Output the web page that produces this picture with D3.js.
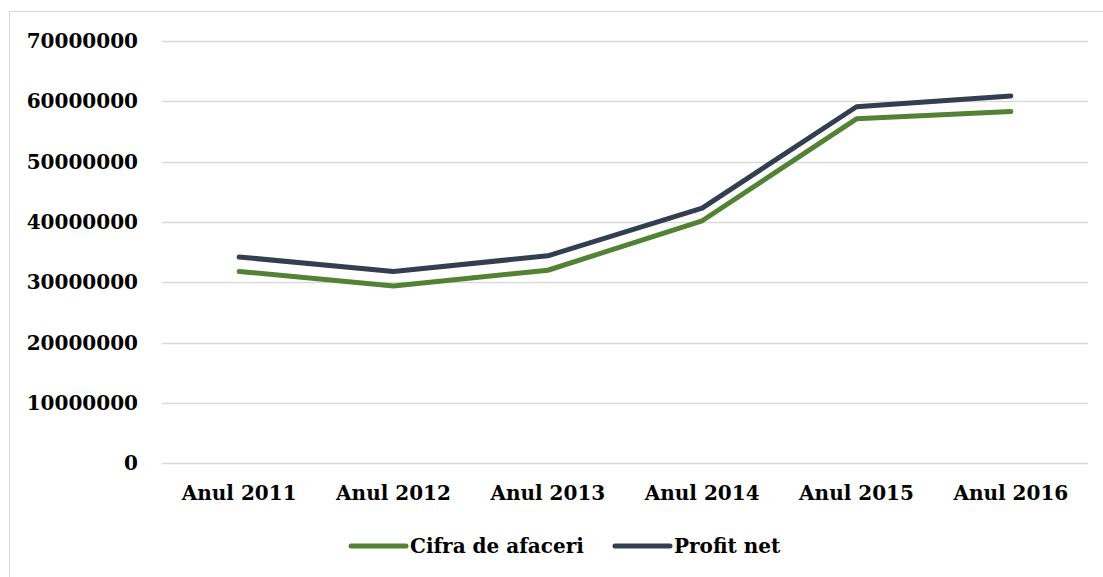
<!DOCTYPE html>
<html lang="ro">
<head>
    <meta charset="UTF-8">
    <title>Cifra de afaceri si profit net</title>
    <script src="https://d3js.org/d3.v7.min.js"></script>
    <style>
        body { margin: 0; background: #fff; }
        text { font-family: "DejaVu Serif", serif; font-weight: bold; fill: #000; }
    </style>
</head>
<body>
    <div id="chart"></div>

    <script>
        // Data
        const years = ["Anul 2011", "Anul 2012", "Anul 2013", "Anul 2014", "Anul 2015", "Anul 2016"];
        const cifraAfaceri = [31800000, 29400000, 32000000, 40200000, 57100000, 58300000];
        const profitNet = [34200000, 31800000, 34400000, 42300000, 59100000, 60900000];
        const yTicks = [0, 10000000, 20000000, 30000000, 40000000, 50000000, 60000000, 70000000];
        const seriesNames = ["Cifra de afaceri", "Profit net"];
        const seriesColors = ["#548235", "#333f50"];

        const width = 1103;
        const height = 577;

        const svg = d3.select("#chart")
            .append("svg")
            .attr("width", width)
            .attr("height", height);

        // outer chart border (only top/left visible in the crop)
        svg.append("rect")
            .attr("x", 9.5).attr("y", 11.5)
            .attr("width", 1100).attr("height", 580)
            .attr("fill", "none")
            .attr("stroke", "#d9d9d9")
            .attr("stroke-width", 1);

        const x = d3.scaleBand()
            .domain(years)
            .range([162, 1088]);

        const y = d3.scaleLinear()
            .domain([0, 70000000])
            .range([463.3, 41]);

        // gridlines
        svg.append("g")
            .selectAll("line")
            .data(yTicks)
            .join("line")
            .attr("x1", 162).attr("x2", 1088)
            .attr("y1", d => Math.round(y(d)) + 0.5)
            .attr("y2", d => Math.round(y(d)) + 0.5)
            .attr("stroke", "#d9d9d9")
            .attr("stroke-width", 1.5);

        // y axis labels
        const yAxis = d3.axisLeft(y)
            .tickValues(yTicks)
            .tickFormat(d3.format("d"))
            .tickSize(0)
            .tickPadding(0);

        svg.append("g")
            .attr("transform", "translate(138,0)")
            .call(yAxis)
            .call(g => g.select(".domain").remove())
            .selectAll("text")
            .style("font-family", "'DejaVu Serif', serif")
            .style("font-weight", "bold")
            .style("font-size", "20px")
            .attr("fill", "#000");

        // x axis labels
        const xAxis = d3.axisBottom(x).tickSize(0).tickPadding(0);
        svg.append("g")
            .attr("transform", "translate(0,486)")
            .call(xAxis)
            .call(g => g.select(".domain").remove())
            .selectAll("text")
            .style("font-family", "'DejaVu Serif', serif")
            .style("font-weight", "bold")
            .style("font-size", "20px")
            .attr("fill", "#000");

        const line = d3.line()
            .x((d, i) => x(years[i]) + x.bandwidth() / 2)
            .y(d => y(d));

        [cifraAfaceri, profitNet].forEach((vals, k) => {
            svg.append("path")
                .datum(vals)
                .attr("d", line)
                .attr("fill", "none")
                .attr("stroke", seriesColors[k])
                .attr("stroke-width", 5)
                .attr("stroke-linecap", "round")
                .attr("stroke-linejoin", "round");
        });

        // legend
        const legendX = [351, 615];
        const legend = svg.append("g");
        seriesNames.forEach((name, k) => {
            legend.append("line")
                .attr("x1", legendX[k]).attr("x2", legendX[k] + 55)
                .attr("y1", 546).attr("y2", 546)
                .attr("stroke", seriesColors[k])
                .attr("stroke-width", 5)
                .attr("stroke-linecap", "round");
            legend.append("text")
                .attr("x", legendX[k] + 59)
                .attr("y", 546)
                .attr("dy", "0.35em")
                .style("font-size", "20px")
                .text(name);
        });
    </script>
</body>
</html>
